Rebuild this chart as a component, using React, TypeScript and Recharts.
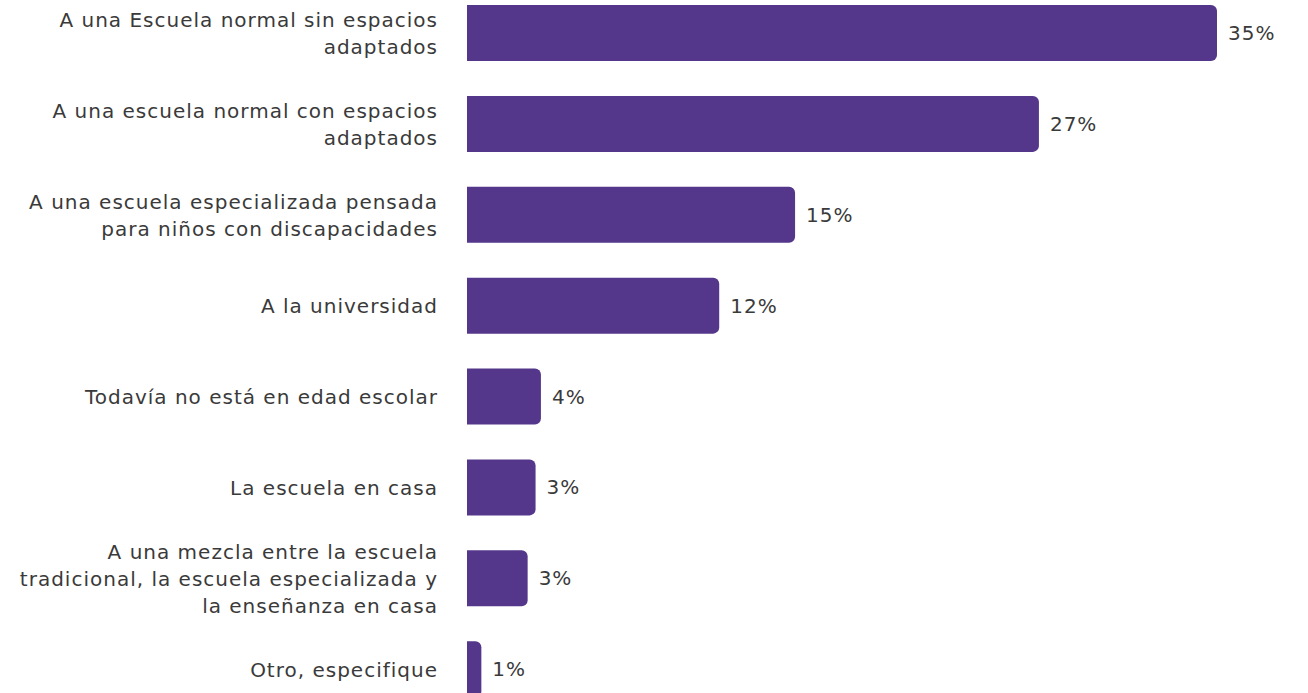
import React from "react";
import { BarChart, Bar, XAxis, YAxis, LabelList } from "recharts";

const categories = [
  "A una Escuela normal sin espacios\nadaptados",
  "A una escuela normal con espacios\nadaptados",
  "A una escuela especializada pensada\npara niños con discapacidades",
  "A la universidad",
  "Todavía no está en edad escolar",
  "La escuela en casa",
  "A una mezcla entre la escuela\ntradicional, la escuela especializada y\nla enseñanza en casa",
  "Otro, especifique",
];
const values = [35, 26.69, 15.31, 11.77, 3.45, 3.2, 2.83, 0.67];
const valueLabels = ["35%", "27%", "15%", "12%", "4%", "3%", "3%", "1%"];

const data = categories.map((c, i) => ({ name: c, value: values[i], label: valueLabels[i] }));

const FONT = "'DejaVu Sans', Verdana, sans-serif";
const TEXT = "#3a3a3a";
const LINE_H = 27;
const SPACING = "1px";

const CatTick = (props: any) => {
  const { x, y, payload } = props;
  const lines = String(payload.value).split("\n");
  const start = -((lines.length - 1) / 2) * LINE_H;
  return (
    <text x={x} y={y} textAnchor="end" fill={TEXT} fontSize={20} fontFamily={FONT} letterSpacing={SPACING}>
      {lines.map((l, i) => (
        <tspan key={i} x={x} y={y + start + i * LINE_H} dy="0.35em">
          {l}
        </tspan>
      ))}
    </text>
  );
};

export default function App() {
  return (
    <div
      style={{
        position: "fixed",
        top: 0,
        left: 0,
        width: 1308,
        height: 693,
        overflow: "hidden",
        background: "#fff",
      }}
    >
      <div style={{ position: "absolute", top: -12, left: 0 }}>
        <BarChart
          width={1308}
          height={727}
          data={data}
          layout="vertical"
          margin={{ top: 0, right: 91, bottom: 0, left: 0 }}
        >
          <XAxis type="number" domain={[0, 35]} hide />
          <YAxis
            type="category"
            dataKey="name"
            width={467}
            axisLine={false}
            tickLine={false}
            tickSize={0}
            tickMargin={29}
            interval={0}
            tick={<CatTick />}
          />
          <Bar dataKey="value" fill="#54378a" barSize={56} radius={[0, 6, 6, 0]} isAnimationActive={false}>
            <LabelList
              dataKey="label"
              position="right"
              offset={11}
              fill={TEXT}
              fontSize={20}
              fontFamily={FONT}
              letterSpacing={SPACING}
            />
          </Bar>
        </BarChart>
      </div>
    </div>
  );
}
